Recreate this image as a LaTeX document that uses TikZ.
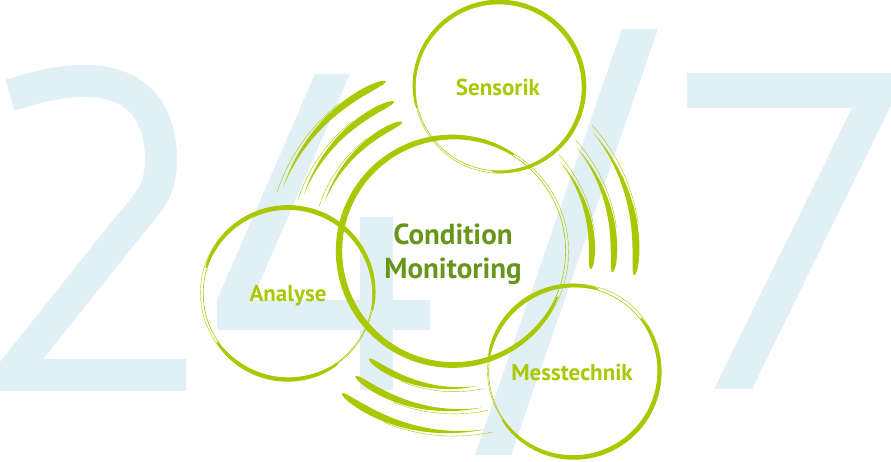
\documentclass[tikz,border=0pt]{standalone}
\usepackage{fontspec}
\setmainfont{PT Sans}
\definecolor{brushgreen}{RGB}{170,200,0}
\definecolor{cmgreen}{RGB}{104,150,28}
\definecolor{digitblue}{RGB}{225,239,246}
\tikzset{declare function={taper(\t)=sin(180*pow(\t,0.45));bulge(\t)=pow(sin(180*\t),0.3);}}
\newcommand{\brusharc}[4]{%
  \begin{scope}[shift={(#1)}]
    \fill[brushgreen] plot[domain=0.002:0.998,samples=40,smooth] ({#2+48*\x}:{#3+#4*taper(\x)})
      -- plot[domain=0.002:0.998,samples=40,smooth] ({#2+48*(1-\x)}:{#3-#4*taper(1-\x)}) -- cycle;
    \draw[brushgreen,line width=0.4pt] plot[domain=16:50,samples=20,smooth] ({#2+\x}:{#3+#4+0.6});
  \end{scope}}
\newcommand{\brushring}[5]{%
  \begin{scope}[shift={(#1)}]
    \fill[brushgreen] plot[domain=0.002:0.998,samples=70,smooth] ({#3+#4*\x}:{#2+#5*bulge(\x)})
      -- plot[domain=0.002:0.998,samples=70,smooth] ({#3+#4*(1-\x)}:{#2-#5*bulge(1-\x)}) -- cycle;
  \end{scope}}
\begin{document}
\begin{tikzpicture}[x=1pt,y=1pt,
    digit/.style={fill=digitblue},
    hair/.style={draw=brushgreen,line width=0.6pt},
    lbl/.style={font=\bfseries\fontsize{23}{27}\selectfont,text=brushgreen,inner sep=0,anchor=base},
    cmlbl/.style={font=\bfseries\fontsize{29}{34}\selectfont,text=cmgreen,inner sep=0,anchor=base}]
    \useasboundingbox (0,0) rectangle (891,462);
    \clip (0,0) rectangle (891,462);
    \draw[draw=digitblue,line width=32pt,line join=miter] (10,367) .. controls (35,374) and (55,381) .. (85,381)
        .. controls (135,381) and (161,352) .. (161,302) .. controls (161,267) and (145,257) .. (120,225)
        -- (10,87) -- (186,87);
    \fill[digit] (315,388) -- (350,388) -- (252,162) -- (430,162) -- (430,132) -- (217,132) -- (217,162) -- cycle;
    \fill[digit] (360,72) rectangle (393,245);
    \fill[digit] (622,433) -- (658,433) -- (511,7) -- (475,7) -- cycle;
    \fill[digit] (687,389) -- (907,389) -- (752,73) -- (714,73) -- (852,354) -- (687,354) -- cycle;
    \brusharc{454,212}{112}{138}{3.1}
    \brusharc{454,212}{112}{160}{3.3}
    \brusharc{454,212}{112}{182}{3.5}
    \brusharc{454,212}{-8}{138}{3.1}
    \brusharc{454,212}{-8}{160}{3.3}
    \brusharc{454,212}{-8}{182}{3.5}
    \brusharc{454,212}{-128}{138}{3.1}
    \brusharc{454,212}{-128}{160}{3.3}
    \brusharc{454,212}{-128}{182}{3.5}
    \draw[hair] (499,375) circle[radius=83.8pt];
    \draw[hair,line width=0.4pt] (499.8,374.4) circle[radius=85.6pt];
    \brushring{499,375}{85}{-95}{290}{2.4}
    \draw[hair] (453,211) circle[radius=112.6pt];
    \draw[hair,line width=0.4pt] (453.8,210.4) circle[radius=114.8pt];
    \brushring{453,211}{114}{57}{280}{3.2}
    \draw[hair] (288,168.5) circle[radius=84.8pt];
    \draw[hair,line width=0.4pt] (287.2,169.2) circle[radius=86.8pt];
    \brushring{288,168.5}{86}{-12}{175}{2.4}
    \brushring{288,168.5}{86}{214}{92}{2.2}
    \draw[hair] (573.5,90.5) circle[radius=84.8pt];
    \draw[hair,line width=0.4pt] (574.3,91.2) circle[radius=86.8pt];
    \brushring{573.5,90.5}{86}{73}{97}{2.3}
    \brushring{573.5,90.5}{86}{214}{185}{2.4}
    \node[lbl] (sensorik) at (498,366) {Sensorik};
    \node[lbl] (analyse) at (288,160) {Analyse};
    \node[lbl] (messtechnik) at (572,81) {Messtechnik};
    \node[cmlbl] (condition) at (453,217) {Condition};
    \node[cmlbl] (monitoring) at (453,183) {Monitoring};
\end{tikzpicture}
\end{document}
